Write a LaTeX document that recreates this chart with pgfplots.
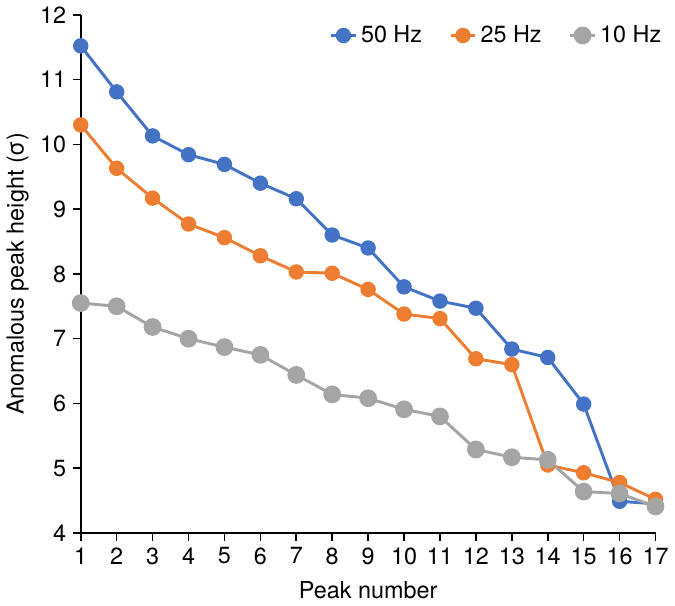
\documentclass[border=0pt]{standalone}
\usepackage{pgfplots}
\pgfplotsset{compat=1.18}
\usepackage{fontspec}
\setmainfont{TeX Gyre Heros}
\definecolor{c50}{HTML}{4472C4}
\definecolor{c25}{HTML}{ED7D31}
\definecolor{c10}{HTML}{A5A5A5}
\begin{document}
\begin{tikzpicture}
\begin{axis}[
    width=295pt, height=266pt,
    scale only axis,
    axis lines=left,
    axis line style={line width=1pt, -},
    xmin=1, xmax=17, ymin=4, ymax=12,
    xtick={1,2,...,17},
    ytick={4,5,...,12},
    tick align=outside,
    tick style={black, line width=0.8pt},
    major tick length=4pt,
    /pgf/number format/assume math mode=true,
    tick label style={font=\fontsize{12}{14}\selectfont},
    xlabel={Peak number},
    ylabel={Anomalous peak height (σ)},
    label style={font=\fontsize{12}{14}\selectfont},
    xlabel style={yshift=-2pt},
    ylabel style={yshift=-1pt},
    clip=false,
    legend columns=3,
    legend style={draw=none, at={(0.725,0.96)}, anchor=center,
        font=\fontsize{12}{14}\selectfont,
        /tikz/every even column/.append style={column sep=12pt}},
    legend image code/.code={
        \draw[#1, mark repeat=2, mark phase=2] plot coordinates {(0cm,0cm) (0.22cm,0cm) (0.44cm,0cm)};},
]
\addplot[c50, line width=1.5pt, mark=*, mark size=3.2pt] coordinates {
(1,11.52) (2,10.81) (3,10.13) (4,9.84) (5,9.69) (6,9.40) (7,9.16) (8,8.60) (9,8.40)
(10,7.80) (11,7.58) (12,7.47) (13,6.84) (14,6.71) (15,5.99) (16,4.49) (17,4.45)};
\addplot[c25, line width=1.5pt, mark=*, mark size=3.2pt] coordinates {
(1,10.30) (2,9.63) (3,9.17) (4,8.77) (5,8.56) (6,8.28) (7,8.03) (8,8.01) (9,7.76)
(10,7.38) (11,7.31) (12,6.69) (13,6.60) (14,5.05) (15,4.93) (16,4.78) (17,4.52)};
\addplot[c10, line width=1.5pt, mark=*, mark size=3.8pt] coordinates {
(1,7.55) (2,7.50) (3,7.18) (4,7.00) (5,6.87) (6,6.75) (7,6.44) (8,6.14) (9,6.08)
(10,5.91) (11,5.80) (12,5.29) (13,5.17) (14,5.13) (15,4.64) (16,4.61) (17,4.41)};
\legend{50 Hz, 25 Hz, 10 Hz}
\end{axis}
\end{tikzpicture}
\end{document}
